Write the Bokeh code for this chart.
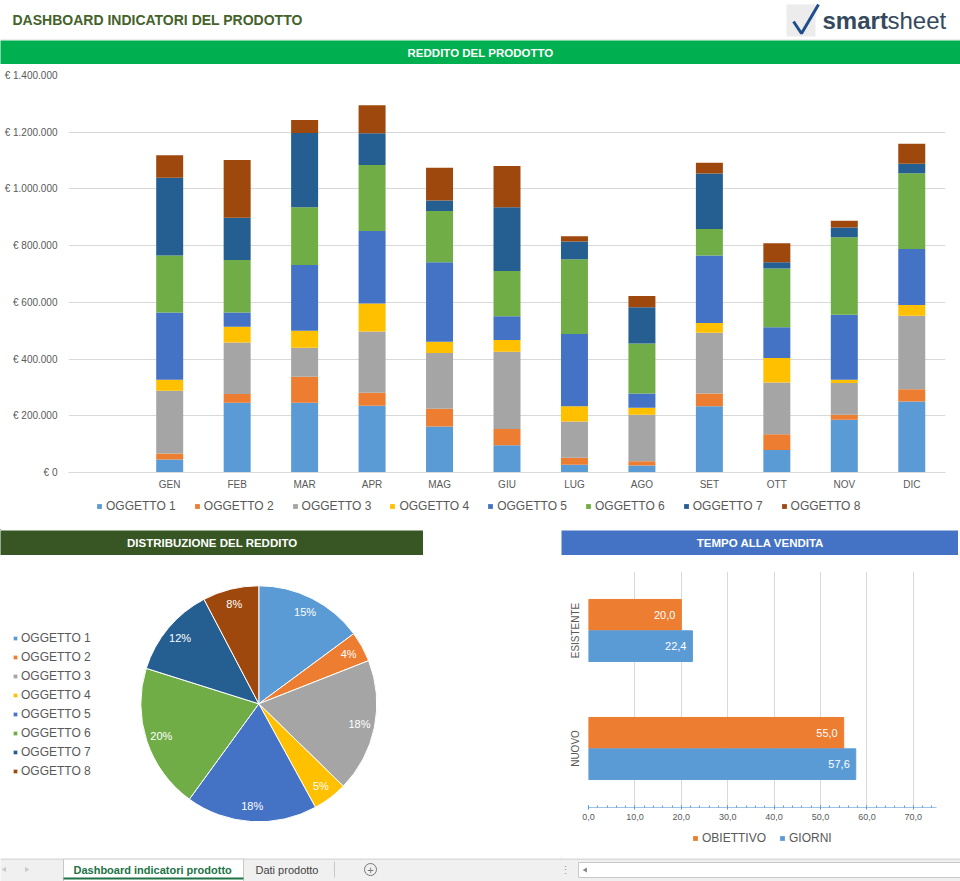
import math
from bokeh.plotting import figure
from bokeh.models import (ColumnDataSource, Range1d, FixedTicker, Legend, LegendItem,
                          Label, FactorRange, Spacer)
from bokeh.layouts import column, row
from bokeh.transform import dodge
from bokeh.core.properties import value
from bokeh.embed import file_html
from bokeh.resources import INLINE

FONT = "Liberation Sans"
TXT = "#595959"

# ---------------- data ----------------
TITLE = "DASHBOARD INDICATORI DEL PRODOTTO"
HEAD_BAR = "REDDITO DEL PRODOTTO"
HEAD_PIE = "DISTRIBUZIONE DEL REDDITO"
HEAD_TIME = "TEMPO ALLA VENDITA"

MONTHS = ["GEN", "FEB", "MAR", "APR", "MAG", "GIU", "LUG", "AGO", "SET", "OTT", "NOV", "DIC"]
ITEMS = ["OGGETTO 1", "OGGETTO 2", "OGGETTO 3", "OGGETTO 4",
         "OGGETTO 5", "OGGETTO 6", "OGGETTO 7", "OGGETTO 8"]
COLORS = ["#5b9bd5", "#ed7d31", "#a5a5a5", "#ffc000", "#4472c4", "#70ad47", "#255e91", "#9e480e"]

OGG1 = [46000, 246000, 246000, 235000, 162000, 96000, 27000, 25000, 234000, 79000, 186000, 250000]
OGG2 = [21000, 31000, 92000, 46000, 63000, 57000, 25000, 15000, 45000, 56000, 18000, 44000]
OGG3 = [221000, 181000, 102000, 216000, 196000, 273000, 128000, 164000, 214000, 182000, 112000, 259000]
OGG4 = [39000, 56000, 60000, 99000, 40000, 41000, 54000, 24000, 34000, 87000, 11000, 38000]
OGG5 = [237000, 50000, 232000, 256000, 280000, 84000, 254000, 51000, 238000, 108000, 229000, 197000]
OGG6 = [201000, 185000, 203000, 232000, 181000, 160000, 264000, 176000, 94000, 207000, 274000, 267000]
OGG7 = [274000, 149000, 262000, 112000, 37000, 224000, 63000, 128000, 195000, 22000, 34000, 34000]
OGG8 = [80000, 204000, 46000, 99000, 116000, 146000, 18000, 39000, 38000, 67000, 24000, 70000]
SERIES = [OGG1, OGG2, OGG3, OGG4, OGG5, OGG6, OGG7, OGG8]

Y_TICKS = [0, 200000, 400000, 600000, 800000, 1000000, 1200000, 1400000]
Y_TICK_LABELS = ["€ 0", "€ 200.000", "€ 400.000", "€ 600.000", "€ 800.000",
                 "€ 1.000.000", "€ 1.200.000", "€ 1.400.000"]

TIME_CATS = ["ESISTENTE", "NUOVO"]
OBIETTIVO = [20.0, 55.0]
GIORNI = [22.4, 57.6]
T_SERIES = ["OBIETTIVO", "GIORNI"]
T_COLORS = ["#ed7d31", "#5b9bd5"]
T_TICKS = [0, 10, 20, 30, 40, 50, 60, 70]
T_TICK_LABELS = ["0,0", "10,0", "20,0", "30,0", "40,0", "50,0", "60,0", "70,0"]

TABS = ["Dashboard indicatori prodotto", "Dati prodotto"]


def bare(p):
    p.axis.visible = False
    p.grid.visible = False
    p.outline_line_color = None
    return p


def blank(w, h, **kw):
    p = figure(width=w, height=h, x_range=Range1d(0, w), y_range=Range1d(0, h),
               output_backend="svg", toolbar_location=None, min_border=0, **kw)
    return bare(p)


def header(w, h, color, text, cx):
    p = blank(w, h, background_fill_color=color, border_fill_color=color)
    p.add_layout(Label(x=cx, y=h / 2, text=text, text_align="center", text_baseline="middle",
                       text_color="white", text_font=FONT, text_font_style="bold",
                       text_font_size="11.5px"))
    return p


def legend_fig(w, h, labels, colors, loc, spacing):
    # legend-only strip: proxy glyphs sit outside the visible range
    p = blank(w, h)
    items = []
    for lab, col in zip(labels, colors):
        r = p.vbar(x=[-1000], top=[1], width=1, fill_color=col, line_color=None)
        items.append(LegendItem(label=lab, renderers=[r]))
    p.add_layout(Legend(items=items, orientation="horizontal", location=loc,
                        glyph_width=6, glyph_height=6, label_standoff=4, spacing=spacing,
                        padding=0, margin=0, label_height=12, border_line_color=None,
                        background_fill_alpha=0, label_text_font=FONT,
                        label_text_font_size="12px", label_text_color=TXT))
    return p


# ---------------- top strip ----------------
top = figure(width=960, height=40, x_range=Range1d(0, 960), y_range=Range1d(40, 0),
             output_backend="svg", toolbar_location=None, min_border=0)
bare(top)
top.add_layout(Label(x=12, y=19, text=TITLE, text_baseline="middle", text_color="#44622a",
                     text_font=FONT, text_font_style="bold", text_font_size="14px"))
top.quad(left=[786], right=[815], top=[4], bottom=[36], fill_color="#ececec", line_color=None)
top.line([793, 801, 818], [21, 33, 4], line_width=3, line_color="#1f4e8c")
top.add_layout(Label(x=822, y=20, text="smart", text_baseline="middle", text_color="#34495e",
                     text_font=FONT, text_font_style="bold", text_font_size="24px"))
top.add_layout(Label(x=887, y=20, text="sheet", text_baseline="middle", text_color="#34495e",
                     text_font=FONT, text_font_size="24px"))
top.line([0, 960], [39, 39], line_color="#ececec", line_width=1)

head1 = header(960, 24, "#00b050", HEAD_BAR, 480)

# ---------------- stacked bar chart ----------------
X = list(range(len(MONTHS)))
src = ColumnDataSource({"x": X, **{f"o{i+1}": s for i, s in enumerate(SERIES)}})
bar = figure(width=960, height=432, x_range=Range1d(-1.5, len(MONTHS) - 0.5),
             y_range=Range1d(Y_TICKS[0], Y_TICKS[-1]), output_backend="svg",
             toolbar_location=None, min_border_left=68, min_border_right=15,
             min_border_top=11, min_border_bottom=24)
bar.outline_line_color = None
bar.vbar_stack([f"o{i+1}" for i in range(8)], x="x", width=0.4, color=COLORS,
               line_color=None, source=src)
bar.xaxis.ticker = FixedTicker(ticks=X)
bar.xaxis.major_label_overrides = {i: m for i, m in enumerate(MONTHS)}
bar.yaxis.ticker = FixedTicker(ticks=Y_TICKS)
bar.yaxis.major_label_overrides = {t: l for t, l in zip(Y_TICKS, Y_TICK_LABELS)}
for ax in (bar.xaxis, bar.yaxis):
    ax.major_tick_line_color = None
    ax.minor_tick_line_color = None
    ax.major_tick_out = 0
    ax.major_tick_in = 0
    ax.minor_tick_out = 0
    ax.major_label_text_font = FONT
    ax.major_label_text_font_size = "10px"
    ax.major_label_text_color = TXT
bar.xaxis.axis_line_color = "#d9d9d9"
bar.yaxis.axis_line_color = None
bar.xaxis.major_label_standoff = 6
bar.yaxis.major_label_standoff = 11
bar.xgrid.visible = False
bar.ygrid.grid_line_color = "#d9d9d9"

bar_leg = legend_fig(960, 34, ITEMS, COLORS, (96, 17), 18)

# ---------------- pie ----------------
totals = [sum(s) for s in SERIES]
grand = sum(totals)
fr = [t / grand for t in totals]
starts, ends, mids = [], [], []
c = 0.0
for f in fr:
    starts.append(math.pi / 2 - 2 * math.pi * c)
    mids.append(math.pi / 2 - 2 * math.pi * (c + f / 2))
    c += f
    ends.append(math.pi / 2 - 2 * math.pi * c)
CX, CY, R = 258.3, 154.7, 118
pie_src = ColumnDataSource(dict(start=starts, end=ends, color=COLORS,
                                lx=[CX + 0.87 * R * math.cos(m) for m in mids],
                                ly=[CY + 0.87 * R * math.sin(m) for m in mids],
                                pct=[f"{round(f * 100)}%" for f in fr]))
pie = blank(423, 303)
w = pie.wedge(x=CX, y=CY, radius=R, start_angle="start", end_angle="end", direction="clock",
              fill_color="color", line_color="white", line_width=1, source=pie_src)
pie.text(x="lx", y="ly", text="pct", text_align="center", text_baseline="middle",
         text_color="white", text_font=value(FONT), text_font_size="11px", source=pie_src)
pleg = Legend(items=[LegendItem(label=ITEMS[i], renderers=[w], index=i) for i in range(8)],
              orientation="vertical", location=(12, 80), glyph_width=6, glyph_height=6,
              label_standoff=3, spacing=5, padding=0, margin=0, label_height=12,
              border_line_color=None, background_fill_alpha=0,
              label_text_font=FONT, label_text_font_size="12px", label_text_color=TXT)
pie.add_layout(pleg)
head_pie = header(423, 25, "#375623", HEAD_PIE, 211.7)
left_col = column(row(head_pie), row(pie), spacing=0)

# ---------------- time to sale ----------------
tsrc = ColumnDataSource(dict(cat=TIME_CATS, obi=OBIETTIVO, gio=GIORNI,
                             lo=[f"{v:.1f}".replace(".", ",") for v in OBIETTIVO],
                             lg=[f"{v:.1f}".replace(".", ",") for v in GIORNI]))
hb = figure(width=399, height=275, x_range=Range1d(0, 75),
            y_range=FactorRange(factors=TIME_CATS[::-1]), output_backend="svg",
            toolbar_location=None, min_border_left=27, min_border_right=24,
            min_border_top=16, min_border_bottom=23)
hb.outline_line_color = None
hb.hbar(y=dodge("cat", 0.133, range=hb.y_range), right="obi", height=0.26,
        color=T_COLORS[0], source=tsrc)
hb.hbar(y=dodge("cat", -0.133, range=hb.y_range), right="gio", height=0.26,
        color=T_COLORS[1], source=tsrc)
for col, lab, dv in (("obi", "lo", 0.133), ("gio", "lg", -0.133)):
    hb.text(x=col, y=dodge("cat", dv, range=hb.y_range), text=lab, x_offset=-6,
            text_align="right", text_baseline="middle", text_color="white",
            text_font=value(FONT), text_font_size="11px", source=tsrc)
hb.xaxis.ticker = FixedTicker(ticks=T_TICKS, minor_ticks=list(range(0, 76, 2)))
hb.xaxis.major_label_overrides = {t: l for t, l in zip(T_TICKS, T_TICK_LABELS)}
hb.xaxis.axis_line_color = "#9dc3e6"
hb.xaxis.major_tick_line_color = "#5b9bd5"
hb.xaxis.minor_tick_line_color = "#5b9bd5"
hb.xaxis.major_tick_in = 2
hb.xaxis.major_tick_out = 2
hb.xaxis.minor_tick_in = 2
hb.xaxis.minor_tick_out = 0
hb.xaxis.major_label_standoff = 4
hb.xaxis.major_label_text_font_size = "9px"
hb.yaxis.axis_line_color = None
hb.yaxis.major_tick_line_color = None
hb.yaxis.minor_tick_line_color = None
hb.yaxis.major_tick_out = 0
hb.yaxis.major_tick_in = 0
hb.yaxis.major_label_orientation = "vertical"
hb.yaxis.major_label_standoff = 8
hb.yaxis.major_label_text_font_size = "10px"
for ax in (hb.xaxis, hb.yaxis):
    ax.major_label_text_font = FONT
    ax.major_label_text_color = TXT
hb.ygrid.visible = False
hb.xgrid.grid_line_color = "#d9d9d9"

hb_leg = legend_fig(399, 28, T_SERIES, T_COLORS, (131, 13), 13)
head_time = header(397, 25, "#4472c4", HEAD_TIME, 199)
right_col = column(row(head_time, Spacer(width=2, height=25)), hb, row(hb_leg), spacing=0)

lower = row(left_col, Spacer(width=138, height=328), right_col, spacing=0)

# ---------------- sheet tabs ----------------
tabs = figure(width=960, height=23, x_range=Range1d(0, 960), y_range=Range1d(881, 858),
              output_backend="svg", toolbar_location=None, min_border=0,
              background_fill_color="#f0f0f0", border_fill_color="#f0f0f0")
bare(tabs)
tabs.line([0, 960], [858.5, 858.5], line_color="#c8c8c8", line_width=1)
tabs.quad(left=[63], right=[243], top=[858.5], bottom=[881], fill_color="white",
          line_color="#c8c8c8")
tabs.line([63, 243], [878, 878], line_color="#217346", line_width=2)
tabs.add_layout(Label(x=73, y=869, text=TABS[0], text_baseline="middle", text_color="#217346",
                      text_font=FONT, text_font_style="bold", text_font_size="11px"))
tabs.add_layout(Label(x=255, y=869, text=TABS[1], text_baseline="middle", text_color="#444444",
                      text_font=FONT, text_font_size="11px"))
tabs.line([334, 334], [861, 877], line_color="#c8c8c8")
tabs.scatter([370], [869], size=12, marker="circle", fill_color=None, line_color="#777777")
tabs.add_layout(Label(x=370, y=869, text="+", text_align="center", text_baseline="middle",
                      text_color="#777777", text_font=FONT, text_font_size="11px"))
tabs.scatter([4, 26], [869, 869], size=5, marker="triangle", angle=[math.pi / 2, -math.pi / 2],
             fill_color="#c8c8c8", line_color=None)
tabs.add_layout(Label(x=565, y=869, text="⋮", text_align="center", text_baseline="middle",
                      text_color="#999999", text_font=FONT, text_font_size="11px"))
tabs.quad(left=[578], right=[962], top=[862], bottom=[877], fill_color="white",
          line_color="#c8c8c8")
tabs.scatter([585], [869.5], size=5, marker="triangle", angle=[math.pi / 2],
             fill_color="#888888", line_color=None)

layout = column(row(top), row(head1), bar, row(bar_leg), lower, row(tabs), spacing=0)

open("out.html", "w").write(file_html(layout, INLINE))
